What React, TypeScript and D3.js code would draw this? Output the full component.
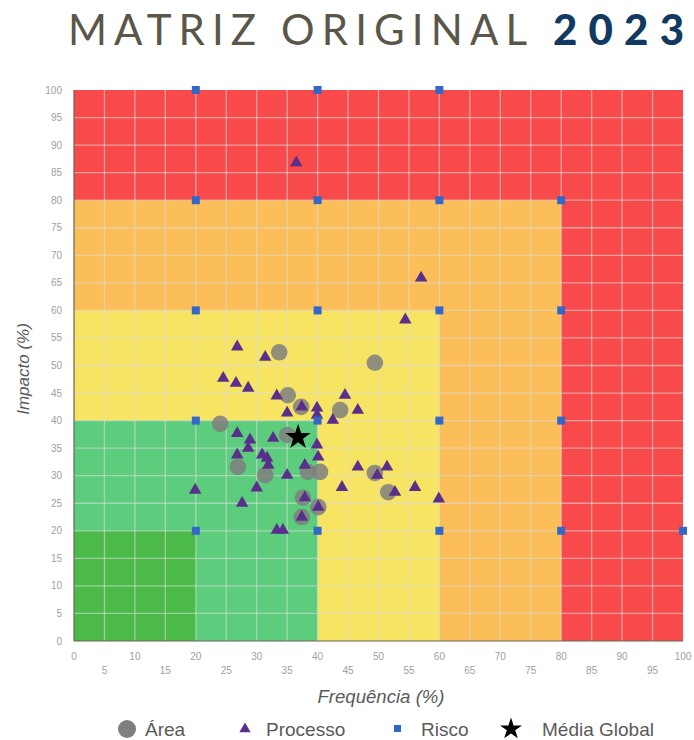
import React from "react";
import * as d3 from "d3";

const W = 694;
const H = 740;

// Zones drawn from largest to smallest
const zoneLimits = [100, 80, 60, 40, 20];
const zoneColors = ["#f84a4a", "#fcbe59", "#f6e462", "#5ccd7c", "#4cba48"];

const areaX = [33.7, 49.4, 35.1, 24.0, 37.3, 43.7, 35.0, 26.9, 31.4, 38.4, 40.4, 37.6, 40.1, 37.4, 49.4, 51.6];
const areaY = [52.4, 50.5, 44.6, 39.4, 42.5, 41.9, 37.4, 31.6, 30.1, 30.7, 30.7, 26.0, 24.3, 22.5, 30.5, 27.0];

const procX = [36.5, 57.0, 54.4, 26.8, 31.4, 24.5, 26.6, 28.6, 33.3, 35.0, 37.4, 39.9, 39.9, 44.5, 46.6, 42.5, 26.8, 28.9, 32.7, 28.6, 26.8, 30.9, 31.7, 31.9, 39.9, 40.1, 37.9, 35.0, 46.6, 51.4, 49.8, 44.0, 52.7, 56.0, 59.9, 37.9, 40.1, 37.4, 19.9, 30.0, 27.6, 33.3, 34.3];
const procY = [86.8, 65.9, 58.3, 53.4, 51.5, 47.7, 46.8, 45.9, 44.5, 41.4, 42.5, 42.3, 41.0, 44.6, 41.9, 40.1, 37.7, 36.5, 36.8, 35.0, 33.8, 33.8, 33.2, 31.9, 35.6, 33.4, 31.9, 30.1, 31.6, 31.6, 30.1, 27.9, 27.0, 27.9, 25.8, 26.0, 24.3, 22.5, 27.4, 27.8, 25.0, 20.1, 20.1];

const riscoX = [20, 40, 60, 20, 40, 60, 80, 20, 40, 60, 80, 20, 40, 60, 80, 20, 40, 60, 80, 100];
const riscoY = [100, 100, 100, 80, 80, 80, 80, 60, 60, 60, 60, 40, 40, 40, 40, 20, 20, 20, 20, 20];

const mediaX = [36.8];
const mediaY = [37.0];

const yTicks = d3.range(0, 101, 5);
const xTicksMajor = d3.range(0, 101, 10);
const xTicksMinor = d3.range(5, 100, 10);

const legendLabels = ["Área", "Processo", "Risco", "Média Global"];

export default function App() {
  const x = d3.scaleLinear().domain([0, 100]).range([74, 683]);
  const y = d3.scaleLinear().domain([0, 100]).range([641, 90]);

  const tri = d3.symbol().type(d3.symbolTriangle).size(68)() as string;
  const star = d3.symbol().type(d3.symbolStar).size(200)() as string;
  const starLeg = d3.symbol().type(d3.symbolStar).size(150)() as string;
  const triLeg = d3.symbol().type(d3.symbolTriangle).size(55)() as string;

  const font = "'Liberation Sans', Arial, sans-serif";
  const gridVals = d3.range(5, 100, 5);

  return (
    <svg width={W} height={H} style={{ position: "absolute", left: 0, top: 0, background: "#fff" }}>
      {/* Title */}
      <text y={45} fontFamily="Lato, 'Open Sans', sans-serif" fontSize={42}>
        <tspan x={68} fill="#5a5649" fontWeight={400} textLength={459} lengthAdjust="spacing">MATRIZ ORIGINAL</tspan>
        <tspan x={553} fill="#123a60" fontWeight={900} textLength={131} lengthAdjust="spacing">2023</tspan>
      </text>

      {/* Zones */}
      {zoneLimits.map((lim, i) => (
        <rect key={i} x={x(0)} y={y(lim)} width={x(lim) - x(0)} height={y(0) - y(lim)} fill={zoneColors[i]} />
      ))}

      {/* Grid */}
      {gridVals.map((v) => (
        <g key={v}>
          <line x1={x(v)} x2={x(v)} y1={y(0)} y2={y(100)} stroke="#dadada" strokeOpacity={0.6} strokeWidth={1.3} />
          <line x1={x(0)} x2={x(100)} y1={y(v)} y2={y(v)} stroke="#dadada" strokeOpacity={0.6} strokeWidth={1.3} />
        </g>
      ))}

      {/* Axes lines */}
      <line x1={x(0)} x2={x(0)} y1={y(0)} y2={y(100)} stroke="#6b6456" strokeWidth={1.2} />
      <line x1={x(0)} x2={x(100)} y1={y(0)} y2={y(0)} stroke="#6b6456" strokeWidth={1.2} />

      {/* Y ticks */}
      {yTicks.map((t) => (
        <text key={t} x={62} y={y(t) + 3.5} textAnchor="end" fontFamily={font} fontSize={10} fill="#a0a0a0">{t}</text>
      ))}
      {/* X ticks */}
      {xTicksMajor.map((t) => (
        <text key={t} x={x(t)} y={660} textAnchor="middle" fontFamily={font} fontSize={10} fill="#a0a0a0">{t}</text>
      ))}
      {xTicksMinor.map((t) => (
        <text key={t} x={x(t)} y={674} textAnchor="middle" fontFamily={font} fontSize={10} fill="#a0a0a0">{t}</text>
      ))}

      {/* Axis labels */}
      <text x={381} y={703} textAnchor="middle" fontFamily={font} fontSize={18.6} fontStyle="italic" fill="#5a5a5a">Frequência (%)</text>
      <text transform={`translate(29,${369}) rotate(-90)`} textAnchor="middle" fontFamily={font} fontSize={17} fontStyle="italic" fill="#5a5a5a">Impacto (%)</text>

      {/* Área */}
      {areaX.map((v, i) => (
        <circle key={i} cx={x(v)} cy={y(areaY[i])} r={8.3} fill="#7f7f7f" fillOpacity={0.85} />
      ))}
      {/* Processo */}
      {procX.map((v, i) => (
        <path key={i} d={tri} transform={`translate(${x(v)},${y(procY[i])})`} fill="#5a2f8c" />
      ))}
      {/* Risco */}
      {riscoX.map((v, i) => (
        <rect key={i} x={x(v) - 4} y={y(riscoY[i]) - 4} width={8} height={8} fill="#3468c8" />
      ))}
      {/* Média Global */}
      {mediaX.map((v, i) => (
        <path key={i} d={star} transform={`translate(${x(v)},${y(mediaY[i])})`} fill="#000" />
      ))}

      {/* Legend */}
      <circle cx={127} cy={729} r={9} fill="#7f7f7f" />
      <text x={145} y={736} fontFamily={font} fontSize={19} fill="#5a5a5a">{legendLabels[0]}</text>
      <path d={triLeg} transform="translate(245,729)" fill="#5a2f8c" />
      <text x={266} y={736} fontFamily={font} fontSize={19} fill="#5a5a5a">{legendLabels[1]}</text>
      <rect x={394} y={725} width={7} height={7} fill="#3468c8" />
      <text x={421} y={736} fontFamily={font} fontSize={19} fill="#5a5a5a">{legendLabels[2]}</text>
      <path d={starLeg} transform="translate(511,729)" fill="#000" />
      <text x={542} y={736} fontFamily={font} fontSize={19} fill="#5a5a5a">{legendLabels[3]}</text>
    </svg>
  );
}
